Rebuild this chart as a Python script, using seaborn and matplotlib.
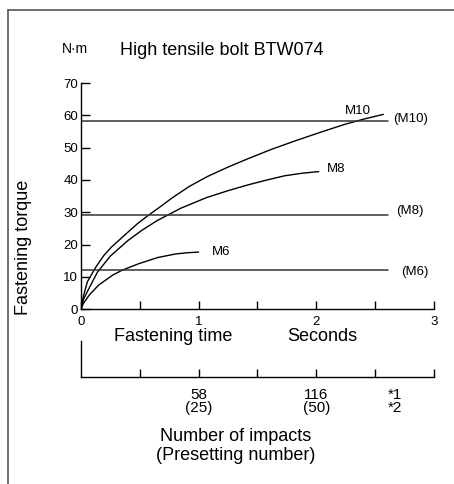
import matplotlib
matplotlib.use("Agg")
import numpy as np
import pandas as pd
import seaborn as sns
from matplotlib import pyplot as plt
from matplotlib.lines import Line2D

# fastening curves (time in s, torque in N·m)
m10_time = [0, 0.02, 0.054, 0.125, 0.195, 0.26, 0.40, 0.48, 0.57, 0.68, 0.78, 0.92, 1.07,
            1.25, 1.42, 1.62, 1.82, 2.03, 2.24, 2.40, 2.57]
m10_torque = [0, 4.0, 8.5, 13.0, 16.7, 19.3, 23.9, 26.5, 29.0, 31.9, 34.6, 38.0, 41.0,
              44.0, 46.6, 49.5, 52.1, 54.7, 57.2, 58.8, 60.3]
m8_time = [0, 0.02, 0.068, 0.14, 0.25, 0.40, 0.52, 0.65, 0.85, 1.07, 1.25, 1.42, 1.58,
           1.73, 1.88, 2.02]
m8_torque = [0, 3.0, 6.5, 11.5, 16.5, 21.3, 24.5, 27.5, 31.3, 34.6, 36.7, 38.5, 40.0,
             41.3, 42.1, 42.6]
m6_time = [0, 0.02, 0.07, 0.15, 0.27, 0.35, 0.49, 0.65, 0.80, 0.90, 1.0]
m6_torque = [0, 1.8, 4.4, 7.5, 10.6, 12.1, 14.1, 16.0, 17.1, 17.5, 17.7]

# presetting torque levels (horizontal lines)
preset_names = ["(M10)", "(M8)", "(M6)"]
preset_torque = [58.3, 29.2, 12.3]
preset_span = [0, 2.61]

y_ticks = [0, 10, 20, 30, 40, 50, 60, 70]
x_ticks = [0, 0.5, 1, 1.5, 2, 2.5, 3]
x_labels = ["0", "", "1", "", "2", "", "3"]
impact_ticks = [0.5, 1, 1.5, 2, 2.5, 3]
impact_labels = ["", "58\n(25)", "", "116\n(50)", "", ""]

sns.set_style("ticks")
plt.rcParams["font.family"] = ["Liberation Sans", "DejaVu Sans"]
plt.rcParams["text.color"] = "black"
plt.rcParams["xtick.color"] = "black"
plt.rcParams["ytick.color"] = "black"
plt.rcParams["xtick.labelcolor"] = "black"
plt.rcParams["ytick.labelcolor"] = "black"

fig = plt.figure(figsize=(4.54, 4.84), dpi=100)
ax = fig.add_axes([0.1784, 0.3609, 0.7775, 0.4676])

curves = [("M10", m10_time, m10_torque), ("M8", m8_time, m8_torque), ("M6", m6_time, m6_torque)]
for name, t, tq in curves:
    sns.lineplot(x=t, y=tq, ax=ax, color="black", lw=1.0, sort=False, estimator=None)

for name, level in zip(preset_names, preset_torque):
    sns.lineplot(x=preset_span, y=[level, level], ax=ax, color="#333333", lw=1.1,
                 sort=False, estimator=None)

ax.set_xlim(0, 3)
ax.set_ylim(0, 70)
ax.set_xticks(x_ticks)
ax.set_xticklabels(x_labels)
ax.set_yticks(y_ticks)
ax.tick_params(axis="y", direction="in", length=6.5, width=1.0, pad=2, labelsize=9.5,
               left=True)
ax.tick_params(axis="x", direction="in", length=5.5, width=1.0, pad=5, labelsize=9.5,
               bottom=True)
for side in ["top", "right"]:
    ax.spines[side].set_visible(False)
for side in ["left", "bottom"]:
    ax.spines[side].set_linewidth(1.0)
    ax.spines[side].set_color("black")
ax.patch.set_alpha(0)

# curve names and presetting names
ax.text(2.35, 61.3, "M10", fontsize=9.5, ha="center", va="center")
ax.text(2.09, 43.5, "M8", fontsize=9.5, ha="left", va="center")
ax.text(1.11, 17.7, "M6", fontsize=9.5, ha="left", va="center")
ax.text(2.65, 58.9, "(M10)", fontsize=9.5, ha="left", va="center")
ax.text(2.68, 30.5, "(M8)", fontsize=9.5, ha="left", va="center")
ax.text(2.72, 11.5, "(M6)", fontsize=9.5, ha="left", va="center")

# number of impacts scale
ax2 = fig.add_axes([0.1784, 0.2217, 0.7775, 0.0744])
ax2.set_xlim(0, 3)
ax2.set_ylim(0, 1)
ax2.set_yticks([])
ax2.set_xticks(impact_ticks)
ax2.set_xticklabels(impact_labels)
ax2.tick_params(axis="x", direction="in", length=5.5, width=1.0, pad=8, labelsize=11,
                bottom=True)
for lbl in ax2.get_xticklabels():
    lbl.set_linespacing(0.95)
for side in ["top", "right"]:
    ax2.spines[side].set_visible(False)
for side in ["left", "bottom"]:
    ax2.spines[side].set_linewidth(1.0)
    ax2.spines[side].set_color("black")
ax2.patch.set_alpha(0)
ax2.text(2.67, -0.3, "*1\n*2", fontsize=11, ha="center", va="top", linespacing=0.95)

# titles and axis texts
fig.text(0.165, 0.890, "N·m", fontsize=10, ha="center", va="baseline")
fig.text(0.264, 0.886, "High tensile bolt BTW074", fontsize=13, ha="left", va="baseline")
fig.text(0.051, 0.488, "Fastening torque", fontsize=13, rotation=90, ha="center", va="center")
fig.text(0.381, 0.2955, "Fastening time", fontsize=13, ha="center", va="baseline")
fig.text(0.709, 0.2955, "Seconds", fontsize=13, ha="center", va="baseline")
fig.text(0.520, 0.0895, "Number of impacts", fontsize=13, ha="center", va="baseline")
fig.text(0.520, 0.0496, "(Presetting number)", fontsize=13, ha="center", va="baseline")

# frame
fig.add_artist(Line2D([0.0176, 0.0176], [0.0, 0.979], color="#555555", lw=1.2))
fig.add_artist(Line2D([0.0176, 1.0], [0.979, 0.979], color="#555555", lw=1.2))

fig.savefig("out.png", dpi=100)
